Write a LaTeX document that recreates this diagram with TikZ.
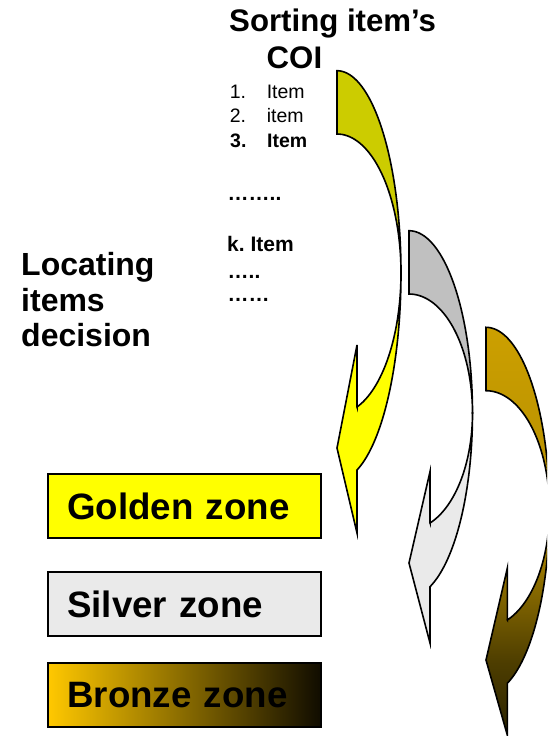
\documentclass[tikz,border=0pt]{standalone}
\usepackage{fontspec}
\setmainfont{Liberation Sans}
\frenchspacing

\definecolor{goldback}{RGB}{204,204,0}
\definecolor{goldfront}{RGB}{255,255,0}
\definecolor{silverback}{RGB}{192,192,192}
\definecolor{silverfront}{RGB}{234,234,234}
\definecolor{bronzeleft}{RGB}{255,200,0}
\definecolor{bronzecentre}{RGB}{206,158,0}
\definecolor{bronzeright}{RGB}{16,12,0}

% bronze arrow: gold at the top, darkening towards the head
\pgfdeclareverticalshading{bronzearrow}{100bp}{%
  rgb(0bp)=(0.165,0.133,0);
  rgb(25bp)=(0.165,0.133,0);
  rgb(34bp)=(0.306,0.243,0);
  rgb(39bp)=(0.431,0.337,0);
  rgb(46bp)=(0.604,0.471,0);
  rgb(56bp)=(0.722,0.565,0);
  rgb(75bp)=(0.800,0.627,0);
  rgb(100bp)=(0.800,0.627,0)}

% geometry of one bent arrow: left x, width, barb x, top, end of flat top,
% turning point, upper barb, inner end, tip, outer end, lower barb
\newcommand{\bentgeom}[9]{%
  \def\ax{#1}\def\arx{#2}\def\abx{#3}%
  \def\aya{#4}\def\ayb{#5}\def\aym{#6}%
  \def\aybone{#7}\def\ayi{#8}\def\ayt{#9}}
\newcommand{\bentlow}[2]{%
  \def\ayo{#1}\def\aybtwo{#2}%
  \pgfmathsetmacro\ate{acos((\abx-\ax)/\arx)}%
  \pgfmathsetmacro\aryo{(\ayo-\aym)/sin(\ate)}%
  \pgfmathsetmacro\aryi{(\ayi-\aym)/sin(\ate)}}
% the band behind (upper half)
\newcommand{\bentback}{%
  (\ax,\aya)
  -- plot[domain=90:0,samples=40,variable=\t]
     ({\ax+\arx*cos(\t)},{\aym-(\aym-\aya)*sin(\t)})
  -- plot[domain=0:90,samples=40,variable=\t]
     ({\ax+\arx*cos(\t)},{\aym-(\aym-\ayb)*sin(\t)})
  -- cycle}
% the band in front (lower half with the head)
\newcommand{\bentfront}{%
  ({\ax+\arx},\aym)
  -- plot[domain=0:-\ate,samples=40,variable=\t]
     ({\ax+\arx*cos(\t)},{\aym-\aryo*sin(\t)})
  -- (\abx,\aybtwo) -- (\ax,\ayt) -- (\abx,\aybone) -- (\abx,\ayi)
  -- plot[domain=-\ate:0,samples=40,variable=\t]
     ({\ax+\arx*cos(\t)},{\aym-\aryi*sin(\t)})
  -- cycle}

\begin{document}
\begin{tikzpicture}[x=1pt,y=-1pt,
  outline/.style={draw=black,line width=1.6pt,line join=miter},
  zonebox/.style={draw=black,line width=2pt,minimum width=272.9pt,
    minimum height=63.6pt,inner xsep=19pt,inner ysep=0pt,text width=234.9pt,
    align=left,text height=26.5pt,text depth=0pt,
    font=\fontsize{36.7}{40}\selectfont\bfseries},
  label/.style={inner sep=0pt,anchor=base west},
  titlefont/.style={font=\fontsize{31.2}{36}\selectfont\bfseries},
  sidefont/.style={font=\fontsize{32}{36}\selectfont\bfseries},
  listfont/.style={font=\fontsize{19.5}{23}\selectfont},
  listbold/.style={font=\fontsize{19.5}{23}\selectfont\bfseries},
  kfont/.style={font=\fontsize{21}{25}\selectfont\bfseries}]

\useasboundingbox (0,0) rectangle (547,736);

% title
\node[label,titlefont] (title1) at (229,31.7) {Sorting item’s};
\node[label,titlefont] (title2) at (266.5,68.3) {COI};

% ranked item list
\node[label,listfont] (it1) at (229.6,98.3) {\makebox[37pt][l]{1.}Item};
\node[label,listfont] (it2) at (229.6,122.7) {\makebox[37pt][l]{2.}item};
\node[label,listbold] (it3) at (230,147.7) {\makebox[37pt][l]{3.}Item};
\node[label,kfont] (dots1) at (227.5,200) {……..};
\node[label,kfont] (itk) at (227,251.7) {k. Item};
\node[label,kfont] (dots2) at (227.5,278.3) {…..};
\node[label,kfont] (dots3) at (227.5,301.7) {……};

% side caption
\node[label,sidefont] (side1) at (21,275) {Locating};
\node[label,sidefont] (side2) at (21,311) {items};
\node[label,sidefont] (side3) at (21,346.7) {decision};

% zones
\node[zonebox,fill=goldfront] (golden) at (184.75,506) {Golden zone};
\node[zonebox,fill=silverfront] (silver) at (184.75,603.85) {Silver zone};
\node[zonebox,left color=bronzeleft,middle color=bronzecentre,
  right color=bronzeright] (bronze) at (184.75,694.7) {Bronze zone};

% bent arrows
\begin{scope}
  \clip (0,0) rectangle (547,736);
  % golden
  \bentgeom{337}{64}{357}{70.7}{134}{273}{345}{407}{448}
  \bentlow{470}{533}
  \path[outline,fill=goldback] \bentback;
  \path[outline,fill=goldfront] \bentfront;
  % silver
  \bentgeom{409}{63.5}{430}{230.7}{294}{413}{471.7}{523}{563}
  \bentlow{586.7}{643}
  \path[outline,fill=silverback] \bentback;
  \path[outline,fill=silverfront] \bentfront;
  % bronze
  \bentgeom{486}{63.5}{507.3}{327.3}{390.7}{509.6}{568.3}{620}{660}
  \bentlow{683.3}{735}
  \shade[shading=bronzearrow] \bentback \bentfront;
  \path[outline] \bentback \bentfront;
\end{scope}
\end{tikzpicture}
\end{document}
